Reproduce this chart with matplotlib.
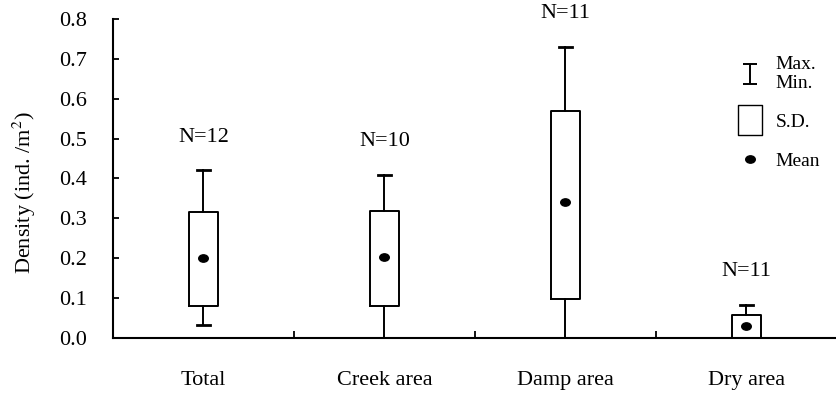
import matplotlib
matplotlib.use("Agg")
import matplotlib.pyplot as plt
from matplotlib.lines import Line2D
from matplotlib.markers import MarkerStyle
from matplotlib.path import Path
from matplotlib.transforms import Affine2D

# values
categories = ["Total", "Creek area", "Damp area", "Dry area"]
n_obs = [12, 10, 11, 11]
mins = [0.032, 0.0, 0.0, 0.0]
maxs = [0.42, 0.409, 0.729, 0.082]
sd_low = [0.081, 0.081, 0.097, 0.0]
sd_high = [0.316, 0.319, 0.569, 0.057]
means = [0.201, 0.203, 0.340, 0.029]

plt.rcParams['font.family'] = ['Liberation Serif', 'DejaVu Serif']
plt.rcParams['mathtext.fontset'] = 'stix'

fig = plt.figure(figsize=(8.37, 3.93), dpi=100)
ax = fig.add_axes([0.135, 0.14, 0.865, 0.812])

# ellipse marker for the mean
mean_marker = MarkerStyle('o', transform=Affine2D().scale(1.3, 1.0))

stats = []
for i in range(len(categories)):
    stats.append(dict(med=means[i], q1=sd_low[i], q3=sd_high[i],
                      whislo=mins[i], whishi=maxs[i], mean=means[i], fliers=[]))

ax.bxp(stats, positions=range(len(categories)), widths=0.155, capwidths=0.07,
       showmeans=True, showfliers=False,
       boxprops=dict(color='black', linewidth=1.4),
       whiskerprops=dict(color='black', linewidth=1.4),
       capprops=dict(color='black', linewidth=2.0),
       medianprops=dict(linewidth=0),
       meanprops=dict(marker=mean_marker, markerfacecolor='black',
                      markeredgecolor='black', markersize=5.3))

# N labels above each whisker
for i, n in enumerate(n_obs):
    ax.annotate(f'N={n}', (i, maxs[i]), xytext=(0, 24), textcoords='offset points',
                ha='center', va='center', fontsize=16, annotation_clip=False)

ax.set_xlim(-0.5, 3.5)
ax.set_ylim(0, 0.8)
ax.set_yticks([0, 0.1, 0.2, 0.3, 0.4, 0.5, 0.6, 0.7, 0.8])
ax.set_yticklabels([f'{v:.1f}' for v in ax.get_yticks()])
ax.set_xticks(range(len(categories)))
ax.set_xticklabels(categories)
ax.set_xticks([0.5, 1.5, 2.5], minor=True)

ax.spines['top'].set_visible(False)
ax.spines['right'].set_visible(False)
ax.spines['left'].set_linewidth(1.5)
ax.spines['bottom'].set_linewidth(1.5)

ax.tick_params(axis='y', direction='in', length=4, width=1.3, pad=19, labelsize=16)
ax.tick_params(axis='x', which='major', length=0, pad=24, labelsize=16)
ax.tick_params(axis='x', which='minor', direction='in', length=5, width=1.3)

ax.set_ylabel('Density (ind. /m$^2$)', fontsize=16)
ax.yaxis.set_label_coords(-0.104, 0.455)

# legend
ibeam = Path([(-0.7, 1), (0.7, 1), (0, 1), (0, -1), (-0.7, -1), (0.7, -1)],
             [Path.MOVETO, Path.LINETO, Path.MOVETO, Path.LINETO, Path.MOVETO, Path.LINETO])
sd_box = Path([(-0.85, -1), (0.85, -1), (0.85, 1), (-0.85, 1), (-0.85, -1)],
              [Path.MOVETO, Path.LINETO, Path.LINETO, Path.LINETO, Path.CLOSEPOLY])
handles = [
    Line2D([], [], linestyle='none', marker=ibeam, markersize=14,
           markerfacecolor='none', markeredgecolor='black', markeredgewidth=1.4),
    Line2D([], [], linestyle='none', marker=sd_box, markersize=21,
           markerfacecolor='white', markeredgecolor='black', markeredgewidth=1.0),
    Line2D([], [], linestyle='none', marker=mean_marker, markersize=5.3,
           markerfacecolor='black', markeredgecolor='black'),
]
ax.legend(handles, ['Max.\nMin.', 'S.D.', 'Mean'], loc='upper left',
          bbox_to_anchor=(0.84, 0.94), frameon=False, fontsize=14,
          handlelength=1.2, handletextpad=0.7, labelspacing=1.1)

fig.savefig('out.png', dpi=100)
plt.close(fig)
